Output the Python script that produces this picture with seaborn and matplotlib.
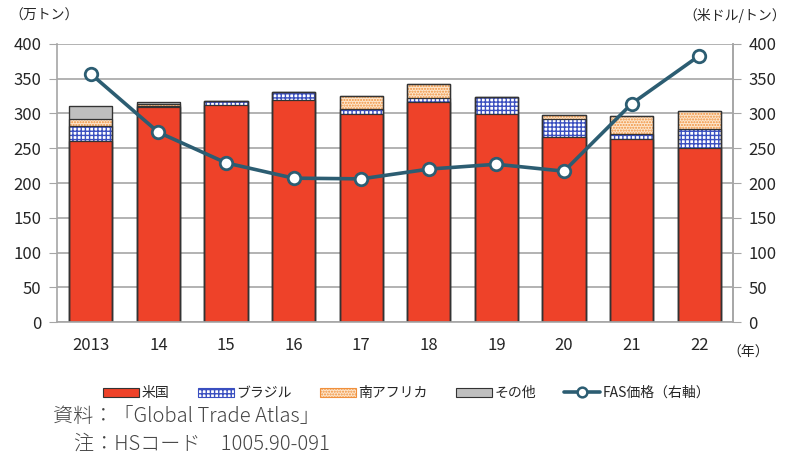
import numpy as np
import seaborn as sns
import matplotlib.pyplot as plt
from matplotlib.patches import Patch
from matplotlib.lines import Line2D

# values (万トン / 米ドル/トン)
years = ['2013', '14', '15', '16', '17', '18', '19', '20', '21', '22']
us = [260, 309, 312, 320, 299, 317, 299, 266, 263, 250]
brazil = [22, 2, 6, 11, 7, 5, 25, 26, 8, 27]
safrica = [10, 3, 0, 0, 19, 20, 0, 6, 26, 26]
other = [19, 3, 0, 0, 0, 0, 0, 0, 0, 0]
fas = [357, 273, 229, 207, 206, 220, 227, 217, 314, 383]

RED = '#EE4229'
BLUE = '#3A4FC0'
ORANGE = '#F0903C'
PEACH = '#FDE6CC'
GREY = '#BFBFBF'
LINE = '#2C5D72'
EDGE = '#333333'

sns.set_style('white')
plt.rcParams['font.family'] = ['Noto Sans CJK JP', 'DejaVu Sans']
plt.rcParams['hatch.linewidth'] = 1.0

fig = plt.figure(figsize=(7.9, 4.57), dpi=100)
ax = fig.add_axes([0.072, 0.295, 0.856, 0.609])

# stacked bars drawn as cumulative layers, largest first
c_us = np.array(us)
c_br = c_us + np.array(brazil)
c_sa = c_br + np.array(safrica)
c_ot = c_sa + np.array(other)

w = 0.64
kw = dict(order=years, width=w, saturation=1, errorbar=None, ax=ax)
sns.barplot(x=years, y=c_ot, color=GREY, edgecolor=EDGE, linewidth=0.8, **kw)
sns.barplot(x=years, y=c_sa, color=PEACH, edgecolor=ORANGE, hatch='......', linewidth=0, **kw)
sns.barplot(x=years, y=c_br, color='white', edgecolor=BLUE, hatch='++++', linewidth=0, **kw)
sns.barplot(x=years, y=c_us, color=RED, edgecolor=EDGE, linewidth=0, **kw)
# segment outlines
for c in [c_ot, c_sa, c_br, c_us]:
    sns.barplot(x=years, y=c, fill=False, edgecolor=EDGE, linewidth=0.9, **kw)

ax.set_ylim(0, 400)
ax.set_yticks(range(0, 401, 50))
ax.set_xlim(-0.5, len(years) - 0.5)
ax.set_axisbelow(True)
ax.grid(axis='y', color='#A6A6A6', linewidth=1.2)
ax.set_xlabel('')
ax.set_ylabel('')
ax.spines['top'].set_visible(False)
for s in ['left', 'right', 'bottom']:
    ax.spines[s].set_color('#A6A6A6')
    ax.spines[s].set_linewidth(1.2)
ax.tick_params(axis='y', length=6, color='#A6A6A6', labelsize=12, pad=5)
ax.tick_params(axis='x', length=0, labelsize=12, pad=11)

ax2 = ax.twinx()
sns.lineplot(x=np.arange(len(years)), y=fas, ax=ax2, color=LINE, linewidth=2.6,
             marker='o', markersize=9, markerfacecolor='white',
             markeredgecolor=LINE, markeredgewidth=2)
ax2.set_ylim(0, 400)
ax2.set_yticks(range(0, 401, 50))
for s in ['top', 'left', 'bottom']:
    ax2.spines[s].set_visible(False)
ax2.spines['right'].set_color('#A6A6A6')
ax2.spines['right'].set_linewidth(1.2)
ax2.tick_params(axis='y', length=6, color='#A6A6A6', labelsize=12, pad=5)
ax2.set_ylabel('')

fig.text(0.012, 0.965, '（万トン）', fontsize=10, va='center', ha='left')
fig.text(0.995, 0.965, '（米ドル/トン）', fontsize=10, va='center', ha='right')
fig.text(0.973, 0.228, '（年）', fontsize=10, va='center', ha='right')

handles = [
    Patch(facecolor=RED, edgecolor=EDGE, linewidth=0.8),
    Patch(facecolor='white', edgecolor=BLUE, hatch='++++', linewidth=0.8),
    Patch(facecolor=PEACH, edgecolor=ORANGE, hatch='......', linewidth=0.8),
    Patch(facecolor=GREY, edgecolor=EDGE, linewidth=0.8),
    Line2D([0], [0], color=LINE, linewidth=2.6, marker='o', markersize=7,
           markerfacecolor='white', markeredgecolor=LINE, markeredgewidth=1.8),
]
labels = ['米国', 'ブラジル', '南アフリカ', 'その他', 'FAS価格（右軸）']
fig.legend(handles, labels, loc='center', bbox_to_anchor=(0.515, 0.14), ncol=5,
           frameon=False, fontsize=10, handlelength=2.6, handleheight=0.6,
           handletextpad=0.2, columnspacing=2.0)

fig.text(0.067, 0.088, '資料：「Global Trade Atlas」', fontsize=14.5, fontweight='light',
         color='#444444', va='center')
fig.text(0.094, 0.027, '注：HSコード　1005.90-091', fontsize=14.5, fontweight='light',
         color='#444444', va='center')

fig.savefig('out.png', dpi=100)
